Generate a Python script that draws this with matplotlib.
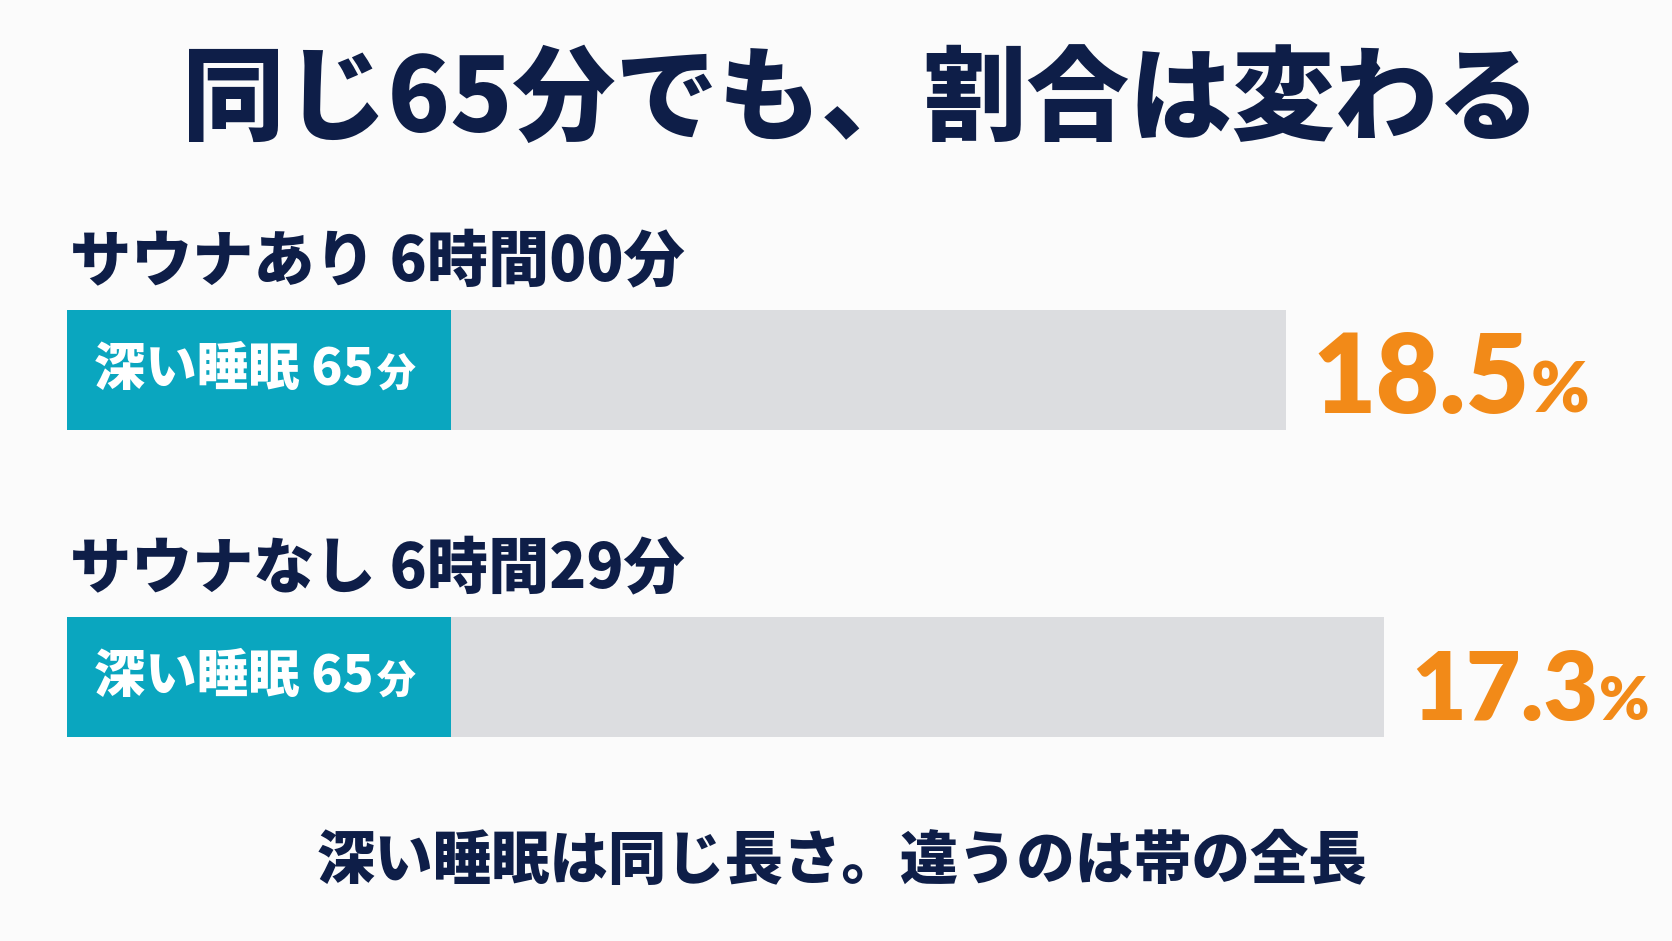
import matplotlib
matplotlib.use('Agg')
import matplotlib.pyplot as plt

plt.rcParams['font.family'] = ['Noto Sans CJK JP', 'DejaVu Sans']
plt.rcParams['font.weight'] = 'heavy'

# data
groups = ['サウナあり', 'サウナなし']
total_labels = ['6時間00分', '6時間29分']
total_min = [360, 389]
deep_min = [65, 65]
deep_share = [18.5, 17.3]

NAVY = '#0e1e48'
TEAL = '#0aa6bf'
GREY = '#dcdde0'
ORANGE = '#f28a18'
BG = '#fbfbfb'
NUM_FONT = ['Lato', 'Noto Sans CJK JP']
num_sizes = [79, 68]   # the first share is printed larger in the original
pct_offsets = [8, 8]   # gap between bar end and the share, in axis units

W, H = 1672, 941
fig = plt.figure(figsize=(W / 100, H / 100), dpi=100)
fig.patch.set_facecolor(BG)

# bar axes: 0 min at x=67px, ~3.385 px per minute
px_per_min = 3.385
x0 = 67
xmax = 470
ax = fig.add_axes([x0 / W, 110.5 / H, xmax * px_per_min / W, 614 / H])
ax.set_xlim(0, xmax)
ax.set_ylim(1.5, -0.5)
ax.axis('off')
ax.set_facecolor(BG)

box_min = 113.3  # width of the teal label box (layout size, in axis units)
ys = list(range(len(groups)))
ax.barh(ys, total_min, height=0.39, color=GREY, left=0, linewidth=0)
ax.barh(ys, [box_min] * len(ys), height=0.39, color=TEAL, left=0, linewidth=0)

fig.canvas.draw()
renderer = fig.canvas.get_renderer()

for i, y in enumerate(ys):
    ax.text(1, y - 0.352, f'{groups[i]} {total_labels[i]}', fontsize=44,
            color=NAVY, va='center', ha='left', clip_on=False)
    t = ax.text(8, y, f'深い睡眠 {deep_min[i]}', fontsize=37, color='white',
                va='center', ha='left')
    bb = t.get_window_extent(renderer)
    fx, fy = ax.transData.inverted().transform((bb.x1 + 3, 0))
    ax.text(fx, y + 0.015, '分', fontsize=28, color='white', va='center', ha='left')

    p = ax.text(total_min[i] + pct_offsets[i], y + 0.14, f'{deep_share[i]}',
                fontsize=num_sizes[i], family=NUM_FONT, color=ORANGE,
                va='baseline', ha='left', clip_on=False)
    bb = p.get_window_extent(renderer)
    fx, fy = ax.transData.inverted().transform((bb.x1 + 1, 0))
    ax.text(fx, y + 0.14, '%', fontsize=num_sizes[i] * 0.64, family=NUM_FONT,
            color=ORANGE, va='baseline', ha='left', clip_on=False)

fig.text(861 / W, 1 - 101 / H, '同じ65分でも、割合は変わる', fontsize=74, color=NAVY,
         ha='center', va='center')
fig.text(842 / W, 1 - 862 / H, '深い睡眠は同じ長さ。違うのは帯の全長', fontsize=42,
         color=NAVY, ha='center', va='center')

fig.savefig('out.png', dpi=100, facecolor=BG)
